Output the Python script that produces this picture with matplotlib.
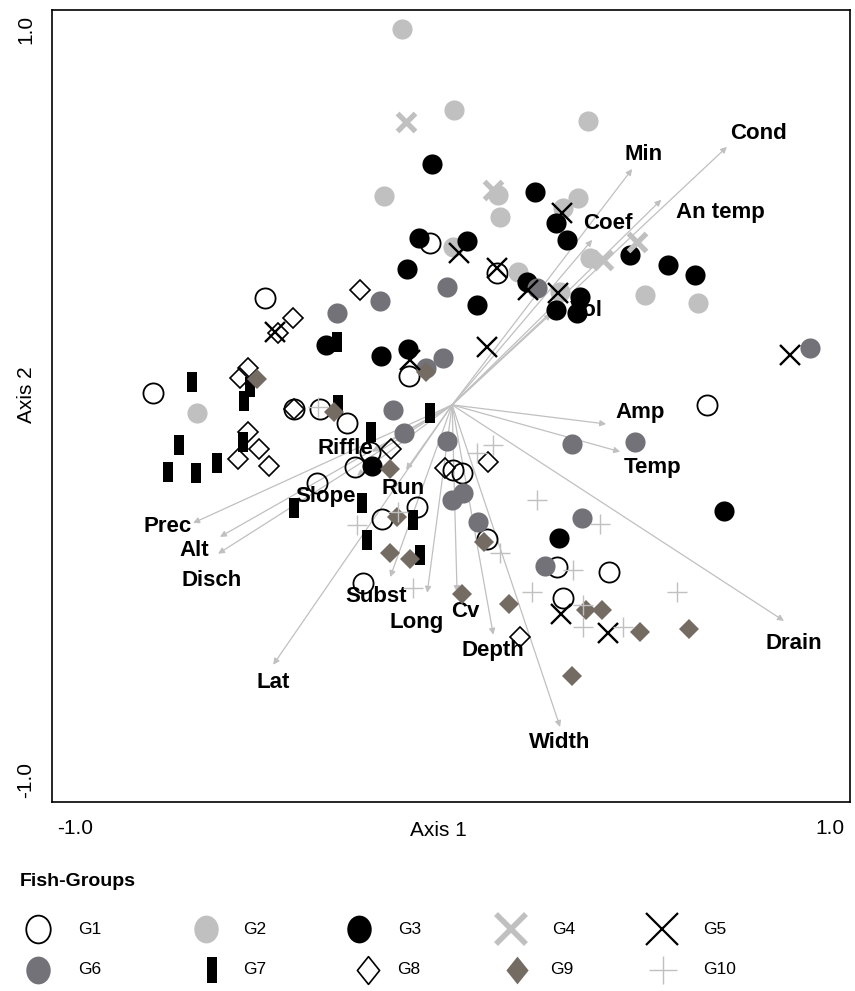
import numpy as np
import matplotlib.pyplot as plt
from matplotlib.path import Path

plt.rcParams['font.family'] = ['Liberation Sans', 'DejaVu Sans']

# site scores per fish group (axis 1, axis 2)
g1_x = [-0.058, -0.495, -0.114, -0.792, -0.419, -0.350, -0.278, -0.217, -0.257, -0.358,
        -0.093, -0.185, -0.236, 0.119, 0.003, 0.026, 0.093, 0.278, 0.416, 0.294, 0.675]
g1_y = [0.432, 0.285, 0.077, 0.032, -0.011, -0.011, -0.048, -0.125, -0.165, -0.208,
        -0.272, -0.304, -0.475, 0.352, -0.173, -0.181, -0.357, -0.432, -0.445, -0.515, 0.000]

g2_x = [-0.132, 0.005, 0.360, -0.180, 0.122, 0.334, 0.127, 0.294, 0.003, 0.175,
        0.286, 0.366, 0.511, 0.652, -0.675]
g2_y = [1.003, 0.787, 0.757, 0.557, 0.560, 0.552, 0.501, 0.525, 0.421, 0.355,
        0.301, 0.392, 0.293, 0.272, -0.021]

g3_x = [-0.053, -0.087, -0.119, 0.040, 0.220, 0.275, 0.305, 0.199, 0.339, 0.275, 0.331,
        0.472, 0.572, 0.644, 0.066, -0.334, -0.188, -0.117, -0.212, 0.283, 0.721]
g3_y = [0.643, 0.445, 0.363, 0.437, 0.568, 0.485, 0.440, 0.328, 0.288, 0.253, 0.245,
        0.400, 0.373, 0.347, 0.267, 0.160, 0.131, 0.149, -0.163, -0.355, -0.283]

g4_x = [-0.122, 0.109, 0.400, 0.490]
g4_y = [0.755, 0.573, 0.387, 0.435]

g5_x = [-0.469, -0.111, 0.019, 0.119, 0.291, 0.201, 0.281, 0.093, 0.895, 0.289, 0.413]
g5_y = [0.195, 0.120, 0.405, 0.365, 0.512, 0.307, 0.299, 0.155, 0.133, -0.557, -0.608]

g6_x = [-0.305, -0.191, -0.013, 0.225, -0.024, -0.069, 0.948, -0.156, -0.127, -0.013,
        0.029, 0.000, 0.069, 0.318, 0.485, 0.344, 0.246]
g6_y = [0.245, 0.277, 0.315, 0.312, 0.125, 0.099, 0.152, -0.013, -0.075, -0.096,
        -0.235, -0.253, -0.312, -0.104, -0.099, -0.301, -0.429]

g7_x = [-0.305, -0.689, -0.535, -0.551, -0.723, -0.752, -0.678, -0.623, -0.554, -0.302,
        -0.058, -0.215, -0.419, -0.238, -0.103, -0.225, -0.085]
g7_y = [0.168, 0.061, 0.048, 0.011, -0.107, -0.179, -0.181, -0.155, -0.099, 0.000,
        -0.021, -0.072, -0.275, -0.261, -0.307, -0.360, -0.400]

g8_x = [-0.244, -0.421, -0.461, -0.562, -0.540, -0.419, -0.540, -0.511, -0.567, -0.485,
        -0.162, -0.019, 0.095, 0.180]
g8_y = [0.307, 0.232, 0.192, 0.072, 0.099, -0.011, -0.072, -0.117, -0.144, -0.163,
        -0.117, -0.168, -0.152, -0.619]

g9_x = [-0.517, -0.069, -0.313, -0.164, -0.146, -0.164, -0.111, 0.085, 0.026, 0.151,
        0.355, 0.397, 0.498, 0.628, 0.318]
g9_y = [0.069, 0.088, -0.019, -0.171, -0.299, -0.395, -0.411, -0.365, -0.504, -0.531,
        -0.547, -0.547, -0.605, -0.597, -0.723]

g10_x = [-0.355, -0.143, -0.252, -0.103, 0.066, 0.109, 0.127, 0.225, 0.392, 0.321,
         0.212, 0.596, 0.347, 0.347, 0.453]
g10_y = [-0.005, -0.285, -0.320, -0.488, -0.128, -0.107, -0.395, -0.253, -0.317, -0.440,
         -0.499, -0.499, -0.533, -0.592, -0.592]

# environmental variables: arrow tips and label positions
env_names = ["Cond", "Min", "An temp", "Coef", "Vol", "Amp", "Temp", "Drain", "Width",
             "Depth", "Cv", "Long", "Subst", "Lat", "Prec", "Alt", "Disch", "Slope",
             "Riffle", "Run"]
env_x = [0.728, 0.477, 0.554, 0.371, 0.262, 0.408, 0.445, 0.879, 0.286, 0.109, 0.013,
         -0.066, -0.164, -0.474, -0.686, -0.615, -0.620, -0.252, -0.212, -0.122]
env_y = [0.688, 0.629, 0.547, 0.440, 0.243, -0.051, -0.125, -0.576, -0.859, -0.613,
         -0.499, -0.501, -0.459, -0.693, -0.315, -0.352, -0.397, -0.189, -0.125, -0.173]
lab_x = [0.811, 0.506, 0.710, 0.413, 0.355, 0.498, 0.532, 0.906, 0.286, 0.109, 0.034,
         -0.093, -0.201, -0.474, -0.755, -0.683, -0.636, -0.336, -0.283, -0.130]
lab_y = [0.725, 0.667, 0.512, 0.485, 0.253, -0.019, -0.168, -0.635, -0.899, -0.656,
         -0.552, -0.581, -0.512, -0.739, -0.323, -0.387, -0.469, -0.245, -0.115, -0.224]

LIGHT = "#c0c0c0"
MID = "#737278"
BROWN = "#746b62"

circ = Path.unit_circle()
ellipse = Path(circ.vertices * [0.88, 1.0], circ.codes)
rect = Path([(-0.27, -0.5), (0.27, -0.5), (0.27, 0.5), (-0.27, 0.5), (-0.27, -0.5)],
            [Path.MOVETO, Path.LINETO, Path.LINETO, Path.LINETO, Path.CLOSEPOLY])
rect_leg = Path([(-0.19, -0.5), (0.19, -0.5), (0.19, 0.5), (-0.19, 0.5), (-0.19, -0.5)],
                [Path.MOVETO, Path.LINETO, Path.LINETO, Path.LINETO, Path.CLOSEPOLY])
diam_leg = Path([(0, -0.5), (0.4, 0), (0, 0.5), (-0.4, 0), (0, -0.5)],
                [Path.MOVETO, Path.LINETO, Path.LINETO, Path.LINETO, Path.CLOSEPOLY])

styles = {
    "G1": dict(marker="o", ms=14.5, mfc="none", mec="black", mew=1.3),
    "G2": dict(marker="o", ms=14.5, mfc=LIGHT, mec=LIGHT, mew=0),
    "G3": dict(marker="o", ms=14.5, mfc="black", mec="black", mew=0),
    "G4": dict(marker="x", ms=12.5, mfc=LIGHT, mec=LIGHT, mew=3.8),
    "G6": dict(marker="o", ms=14.5, mfc=MID, mec=MID, mew=0),
    "G7": dict(marker=rect, ms=14.5, mfc="black", mec="black", mew=0),
    "G8": dict(marker="D", ms=10.5, mfc="none", mec="black", mew=1.2),
    "G9": dict(marker="D", ms=10.5, mfc=BROWN, mec=BROWN, mew=0),
    "G5": dict(marker="x", ms=14, mfc="black", mec="black", mew=1.7),
    "G10": dict(marker="+", ms=15, mfc=LIGHT, mec=LIGHT, mew=1.0),
}
data = {"G1": (g1_x, g1_y), "G2": (g2_x, g2_y), "G3": (g3_x, g3_y), "G4": (g4_x, g4_y),
        "G5": (g5_x, g5_y), "G6": (g6_x, g6_y), "G7": (g7_x, g7_y), "G8": (g8_x, g8_y),
        "G9": (g9_x, g9_y), "G10": (g10_x, g10_y)}

fig = plt.figure(figsize=(8.55, 9.91), dpi=100)
ax = fig.add_axes([52 / 855, 1 - 802 / 991, 798 / 855, 792 / 991])
ax.set_xlim(-1.060, 1.054)
ax.set_ylim(-1.059, 1.053)

for x, y in zip(env_x, env_y):
    ax.annotate("", xy=(x, y), xytext=(0, 0), zorder=1,
                arrowprops=dict(arrowstyle="-|>", color=LIGHT, lw=0.9,
                                mutation_scale=9, shrinkA=0, shrinkB=0))
for name, x, y in zip(env_names, lab_x, lab_y):
    ax.text(x, y, name, ha="center", va="center", fontsize=16, fontweight="bold", zorder=2)

for g in styles:
    gx, gy = data[g]
    ax.plot(gx, gy, linestyle="none", zorder=3, **styles[g])

ax.set_xticks([-1, 1])
ax.set_xticklabels(["-1.0", "1.0"], fontsize=15)
ax.set_yticks([-1, 1])
ax.set_yticklabels(["-1.0", "1.0"], fontsize=15, rotation=90, va="center")
ax.tick_params(length=0, pad=12)
for s in ax.spines.values():
    s.set_linewidth(1.2)
fig.text(438 / 855, 1 - 830 / 991, "Axis 1", ha="center", va="center", fontsize=15)
fig.text(27 / 855, 1 - 395 / 991, "Axis 2", ha="center", va="center", fontsize=15,
         rotation=90)

# legend drawn in a pixel-space overlay
lax = fig.add_axes([0, 0, 1, 1])
lax.set_xlim(0, 855)
lax.set_ylim(991, 0)
lax.axis("off")
lax.patch.set_visible(False)
lax.text(20, 881, "Fish-Groups", ha="left", va="center", fontsize=14, fontweight="bold")

leg_styles = {
    "G1": dict(marker=ellipse, ms=20, mfc="none", mec="black", mew=1.3),
    "G2": dict(marker=ellipse, ms=20, mfc=LIGHT, mec=LIGHT, mew=0),
    "G3": dict(marker=ellipse, ms=20, mfc="black", mec="black", mew=0),
    "G4": dict(marker="x", ms=22, mfc=LIGHT, mec=LIGHT, mew=4),
    "G5": dict(marker="x", ms=23, mfc="black", mec="black", mew=1.6),
    "G6": dict(marker=ellipse, ms=20, mfc=MID, mec=MID, mew=0),
    "G7": dict(marker=rect_leg, ms=19, mfc="black", mec="black", mew=0),
    "G8": dict(marker=diam_leg, ms=20, mfc="none", mec="black", mew=1.2),
    "G9": dict(marker=diam_leg, ms=20, mfc=BROWN, mec=BROWN, mew=0),
    "G10": dict(marker="+", ms=20, mfc=LIGHT, mec=LIGHT, mew=1.0),
}
leg_order = ["G1", "G2", "G3", "G4", "G5", "G6", "G7", "G8", "G9", "G10"]
mark_x = [38, 206, 359, 511, 662, 38, 212, 368, 517, 663]
text_x = [78, 243, 398, 552, 703, 78, 243, 397, 550, 703]
row_y = [929] * 5 + [970] * 5
for g, mx, tx, ry in zip(leg_order, mark_x, text_x, row_y):
    lax.plot([mx], [ry], linestyle="none", **leg_styles[g])
    lax.text(tx, ry, g, ha="left", va="center", fontsize=12.5)

fig.savefig("out.png", dpi=100)
